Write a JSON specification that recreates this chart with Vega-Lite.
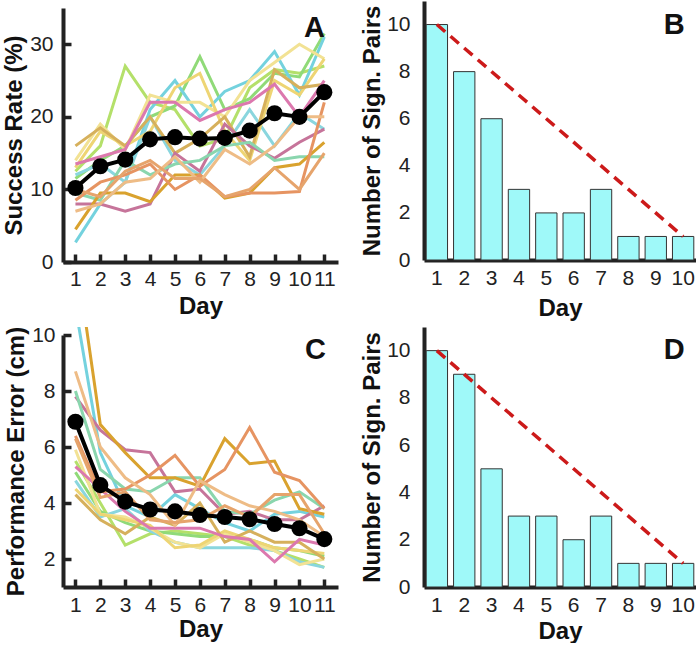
{
  "$schema": "https://vega.github.io/schema/vega-lite/v6.json",
  "padding": {"left": 2, "top": 1, "right": 0, "bottom": 0},
  "config": {
    "font": "Liberation Sans",
    "view": {"stroke": null},
    "axis": {"domainColor": "#222", "domainWidth": 4, "labelFontSize": 21, "labelColor": "#222", "titleFontSize": 24, "titleFontWeight": "bold", "titleColor": "#111", "grid": false, "labelFont": "Liberation Sans", "titleFont": "Liberation Sans", "zindex": 1, "tickColor": "#222", "labelOverlap": false, "labelFlush": false}
  },
  "datasets": {
    "A": [
      {"day": 1, "s1": 12.5, "s2": 11.5, "s3": 2.7, "s4": 12, "s5": 14, "s6": 13, "s7": 16, "s8": 13.5, "s9": 8, "s10": 9.5, "s11": 4.5, "s12": 8.5, "s13": 7, "s14": 10, "m": 10.2},
      {"day": 2, "s1": 16, "s2": 14, "s3": 8, "s4": 13.5, "s5": 19, "s6": 18, "s7": 18.5, "s8": 14.5, "s9": 8, "s10": 8.5, "s11": 9.5, "s12": 11, "s13": 8, "s14": 9, "m": 13.2},
      {"day": 3, "s1": 27, "s2": 16, "s3": 11, "s4": 11, "s5": 15.5, "s6": 16, "s7": 16, "s8": 15.5, "s9": 7, "s10": 14, "s11": 9.5, "s12": 12, "s13": 11, "s14": 12.5, "m": 14.1},
      {"day": 4, "s1": 22, "s2": 20, "s3": 21, "s4": 20, "s5": 23, "s6": 18, "s7": 20, "s8": 22, "s9": 8, "s10": 12, "s11": 8.3, "s12": 13.5, "s13": 11.5, "s14": 14, "m": 16.9},
      {"day": 5, "s1": 21, "s2": 21.5, "s3": 25, "s4": 14, "s5": 22, "s6": 24, "s7": 15, "s8": 22, "s9": 15, "s10": 13.5, "s11": 12, "s12": 10, "s13": 14.5, "s14": 11.5, "m": 17.2},
      {"day": 6, "s1": 16, "s2": 28.3, "s3": 20, "s4": 12, "s5": 22, "s6": 26, "s7": 17, "s8": 19.5, "s9": 12.5, "s10": 14, "s11": 12, "s12": 12, "s13": 11, "s14": 11.5, "m": 17.0},
      {"day": 7, "s1": 17, "s2": 21, "s3": 23.5, "s4": 16, "s5": 20, "s6": 18, "s7": 20, "s8": 21, "s9": 19, "s10": 16, "s11": 8.8, "s12": 9, "s13": 15.5, "s14": 9, "m": 17.1},
      {"day": 8, "s1": 24, "s2": 22.5, "s3": 25, "s4": 21, "s5": 25, "s6": 14, "s7": 14.5, "s8": 22, "s9": 16, "s10": 16.5, "s11": 9.5, "s12": 9.5, "s13": 13.5, "s14": 10, "m": 18.1},
      {"day": 9, "s1": 26.5, "s2": 26, "s3": 29, "s4": 16, "s5": 27.5, "s6": 25, "s7": 26.5, "s8": 24.5, "s9": 14.3, "s10": 14, "s11": 13, "s12": 9.5, "s13": 16, "s14": 13, "m": 20.5},
      {"day": 10, "s1": 26, "s2": 25.5, "s3": 23, "s4": 20.5, "s5": 30, "s6": 23, "s7": 24, "s8": 20, "s9": 16.5, "s10": 14.5, "s11": 13.5, "s12": 9.7, "s13": 20, "s14": 10, "m": 20.0},
      {"day": 11, "s1": 27, "s2": 31.5, "s3": 31, "s4": 18.3, "s5": 28, "s6": 28, "s7": 24.5, "s8": 25, "s9": 18.3, "s10": 14.5, "s11": 16.5, "s12": 22, "s13": 20, "s14": 15, "m": 23.4}
    ],
    "C": [
      {"day": 1, "s1": 5.5, "s2": 5.1, "s3": 11, "s4": 4.8, "s5": 5.9, "s6": 4.5, "s7": 4.3, "s8": 5.3, "s9": 7.8, "s10": 8.0, "s11": 13, "s12": 6.4, "s13": 8.7, "s14": 6.3, "m": 6.9},
      {"day": 2, "s1": 4.0, "s2": 3.7, "s3": 5.8, "s4": 3.5, "s5": 3.6, "s6": 3.6, "s7": 3.4, "s8": 4.5, "s9": 6.6, "s10": 5.2, "s11": 6.8, "s12": 4.4, "s13": 6.0, "s14": 4.2, "m": 4.64},
      {"day": 3, "s1": 2.5, "s2": 3.3, "s3": 3.9, "s4": 3.8, "s5": 3.5, "s6": 3.4, "s7": 2.9, "s8": 3.7, "s9": 5.9, "s10": 4.5, "s11": 5.8, "s12": 4.5, "s13": 4.9, "s14": 4.4, "m": 4.05},
      {"day": 4, "s1": 2.9, "s2": 3.0, "s3": 3.5, "s4": 3.0, "s5": 3.1, "s6": 3.2, "s7": 3.5, "s8": 3.1, "s9": 5.8, "s10": 4.4, "s11": 4.9, "s12": 5.0, "s13": 4.3, "s14": 3.4, "m": 3.77},
      {"day": 5, "s1": 3.0, "s2": 2.9, "s3": 4.3, "s4": 2.6, "s5": 2.6, "s6": 2.4, "s7": 3.2, "s8": 3.1, "s9": 4.4, "s10": 4.9, "s11": 4.9, "s12": 5.7, "s13": 3.2, "s14": 3.3, "m": 3.7},
      {"day": 6, "s1": 2.9, "s2": 2.8, "s3": 3.8, "s4": 2.4, "s5": 2.4, "s6": 2.5, "s7": 4.0, "s8": 3.1, "s9": 4.5, "s10": 4.9, "s11": 4.6, "s12": 4.6, "s13": 4.8, "s14": 3.4, "m": 3.57},
      {"day": 7, "s1": 2.8, "s2": 2.8, "s3": 3.3, "s4": 2.4, "s5": 2.9, "s6": 3.0, "s7": 2.6, "s8": 2.8, "s9": 3.6, "s10": 3.7, "s11": 6.3, "s12": 5.2, "s13": 4.3, "s14": 3.9, "m": 3.5},
      {"day": 8, "s1": 2.5, "s2": 2.7, "s3": 3.0, "s4": 2.4, "s5": 2.6, "s6": 2.7, "s7": 3.0, "s8": 2.7, "s9": 3.7, "s10": 3.6, "s11": 5.4, "s12": 6.7, "s13": 3.9, "s14": 3.5, "m": 3.42},
      {"day": 9, "s1": 2.3, "s2": 2.4, "s3": 3.6, "s4": 2.3, "s5": 2.3, "s6": 2.4, "s7": 2.6, "s8": 1.9, "s9": 3.4, "s10": 4.1, "s11": 5.5, "s12": 5.1, "s13": 3.7, "s14": 4.3, "m": 3.25},
      {"day": 10, "s1": 2.0, "s2": 2.3, "s3": 3.7, "s4": 1.9, "s5": 1.8, "s6": 2.3, "s7": 2.6, "s8": 2.7, "s9": 3.4, "s10": 4.4, "s11": 3.8, "s12": 4.8, "s13": 3.4, "s14": 4.3, "m": 3.1},
      {"day": 11, "s1": 1.7, "s2": 2.1, "s3": 3.5, "s4": 1.7, "s5": 2.0, "s6": 2.2, "s7": 2.0, "s8": 2.5, "s9": 3.9, "s10": 3.8, "s11": 3.6, "s12": 3.8, "s13": 2.8, "s14": 2.9, "m": 2.71}
    ],
    "B": [
      {"day": 1, "n": 10}, {"day": 2, "n": 8}, {"day": 3, "n": 6}, {"day": 4, "n": 3}, {"day": 5, "n": 2},
      {"day": 6, "n": 2}, {"day": 7, "n": 3}, {"day": 8, "n": 1}, {"day": 9, "n": 1}, {"day": 10, "n": 1}
    ],
    "D": [
      {"day": 1, "n": 10}, {"day": 2, "n": 9}, {"day": 3, "n": 5}, {"day": 4, "n": 3}, {"day": 5, "n": 3},
      {"day": 6, "n": 2}, {"day": 7, "n": 3}, {"day": 8, "n": 1}, {"day": 9, "n": 1}, {"day": 10, "n": 1}
    ],
    "ref": [{"day": 1, "n": 10}, {"day": 10, "n": 1}]
  },
  "spacing": 4,
  "vconcat": [
    {
      "spacing": 22,
      "hconcat": [
        {
          "width": 275, "height": 261,
          "encoding": {
            "x": {"field": "day", "type": "quantitative", "scale": {"domain": [0.5, 11.55], "nice": false, "zero": false},
                  "axis": {"values": [1,2,3,4,5,6,7,8,9,10,11], "title": "Day", "ticks": true, "tickSize": -8, "tickWidth": 3.5, "labelPadding": 14, "titlePadding": 5}},
            "y": {"field": "v", "type": "quantitative", "scale": {"domain": [0, 35], "range": [261, 7], "nice": false},
                  "axis": {"values": [0, 10, 20, 30], "title": "Success Rate (%)", "ticks": true, "tickSize": -8, "tickWidth": 3.5, "labelPadding": 18, "titlePadding": 3}}
          },
          "layer": [
            {
              "data": {"name": "A"},
              "transform": [{"fold": ["s1","s2","s3","s4","s5","s6","s7","s8","s9","s10","s11","s12","s13","s14"], "as": ["subj", "v"]}],
              "mark": {"type": "line", "strokeWidth": 3, "opacity": 1, "clip": true},
              "encoding": {"color": {"field": "subj", "type": "nominal", "legend": null,
                "scale": {"domain": ["s1","s2","s3","s4","s5","s6","s7","s8","s9","s10","s11","s12","s13","s14"],
                          "range": ["#b4e06a","#90da78","#74d2de","#8ad6de","#f2e294","#eed574","#d6b05c","#dc78ae","#c6749a","#8ad6ae","#d9a22e","#e69462","#eebc86","#e6a46c"]}}}
            },
            {
              "data": {"name": "A"},
              "transform": [{"fold": ["m"], "as": ["subj", "v"]}],
              "layer": [
                {"mark": {"type": "line", "color": "#000", "strokeWidth": 4}, "encoding": {}},
                {"mark": {"type": "circle", "color": "#000", "size": 260, "opacity": 1}}
              ]
            },
            {
              "data": {"values": [{"day": 10.6, "v": 32.3, "t": "A"}]},
              "mark": {"type": "text", "fontSize": 29, "fontWeight": "bold", "color": "#111", "baseline": "middle", "align": "center"},
              "encoding": {"text": {"field": "t"}}
            }
          ]
        },
        {
          "width": 272, "height": 259,
          "encoding": {
            "x": {"field": "day", "type": "ordinal", "scale": {"domain": [1,2,3,4,5,6,7,8,9,10], "paddingInner": 0.22, "paddingOuter": 0.08},
                  "axis": {"labelAngle": 0, "title": "Day", "ticks": false, "tickSize": 0, "labelPadding": 7, "titlePadding": 8}},
            "y": {"field": "n", "type": "quantitative", "scale": {"domain": [0, 11], "nice": false},
                  "axis": {"values": [0,2,4,6,8,10], "title": "Number of Sign. Pairs", "ticks": false, "tickSize": 0, "labelPadding": 14, "titlePadding": 2}}
          },
          "layer": [
            {"data": {"name": "B"}, "mark": {"type": "bar", "fill": "#9ff9f9", "stroke": "#333", "strokeWidth": 1}},
            {"data": {"name": "ref"}, "mark": {"type": "line", "color": "#cc1a1a", "strokeWidth": 3.5, "strokeDash": [11, 7]}, "encoding": {}},
            {"data": {"values": [{"day": 10, "n": 9.97, "t": "B"}]},
             "mark": {"type": "text", "fontSize": 29, "fontWeight": "bold", "color": "#111", "baseline": "middle", "align": "center", "dx": -9},
             "encoding": {"text": {"field": "t"}}}
          ]
        }
      ]
    },
    {
      "spacing": 22,
      "hconcat": [
        {
          "width": 275, "height": 260,
          "encoding": {
            "x": {"field": "day", "type": "quantitative", "scale": {"domain": [0.5, 11.55], "nice": false, "zero": false},
                  "axis": {"values": [1,2,3,4,5,6,7,8,9,10,11], "title": "Day", "ticks": true, "tickSize": -8, "tickWidth": 3.5, "labelPadding": 15, "titlePadding": 2}},
            "y": {"field": "v", "type": "quantitative", "scale": {"domain": [1, 10], "range": [260, 8], "nice": false, "zero": false},
                  "axis": {"values": [2, 4, 6, 8, 10], "title": "Performance Error (cm)", "ticks": true, "tickSize": -8, "tickWidth": 3.5, "labelPadding": 16, "titlePadding": 3}}
          },
          "layer": [
            {
              "data": {"name": "C"},
              "transform": [{"fold": ["s1","s2","s3","s4","s5","s6","s7","s8","s9","s10","s11","s12","s13","s14"], "as": ["subj", "v"]}],
              "mark": {"type": "line", "strokeWidth": 3, "opacity": 1, "clip": true},
              "encoding": {"color": {"field": "subj", "type": "nominal", "legend": null,
                "scale": {"domain": ["s1","s2","s3","s4","s5","s6","s7","s8","s9","s10","s11","s12","s13","s14"],
                          "range": ["#b4e06a","#90da78","#74d2de","#8ad6de","#f2e294","#eed574","#d6b05c","#dc78ae","#c6749a","#8ad6ae","#d9a22e","#e69462","#eebc86","#e6a46c"]}}}
            },
            {
              "data": {"name": "C"},
              "transform": [{"fold": ["m"], "as": ["subj", "v"]}],
              "layer": [
                {"mark": {"type": "line", "color": "#000", "strokeWidth": 4}, "encoding": {}},
                {"mark": {"type": "circle", "color": "#000", "size": 260, "opacity": 1}}
              ]
            },
            {
              "data": {"values": [{"day": 10.64, "v": 9.46, "t": "C"}]},
              "mark": {"type": "text", "fontSize": 29, "fontWeight": "bold", "color": "#111", "baseline": "middle", "align": "center"},
              "encoding": {"text": {"field": "t"}}
            }
          ]
        },
        {
          "width": 272, "height": 260,
          "encoding": {
            "x": {"field": "day", "type": "ordinal", "scale": {"domain": [1,2,3,4,5,6,7,8,9,10], "paddingInner": 0.22, "paddingOuter": 0.08},
                  "axis": {"labelAngle": 0, "title": "Day", "ticks": false, "tickSize": 0, "labelPadding": 7, "titlePadding": 4}},
            "y": {"field": "n", "type": "quantitative", "scale": {"domain": [0, 11], "nice": false},
                  "axis": {"values": [0,2,4,6,8,10], "title": "Number of Sign. Pairs", "ticks": false, "tickSize": 0, "labelPadding": 14, "titlePadding": 2}}
          },
          "layer": [
            {"data": {"name": "D"}, "mark": {"type": "bar", "fill": "#9ff9f9", "stroke": "#333", "strokeWidth": 1}},
            {"data": {"name": "ref"}, "mark": {"type": "line", "color": "#cc1a1a", "strokeWidth": 3.5, "strokeDash": [11, 7]}, "encoding": {}},
            {"data": {"values": [{"day": 10, "n": 10.04, "t": "D"}]},
             "mark": {"type": "text", "fontSize": 29, "fontWeight": "bold", "color": "#111", "baseline": "middle", "align": "center", "dx": -9},
             "encoding": {"text": {"field": "t"}}}
          ]
        }
      ]
    }
  ]
}
